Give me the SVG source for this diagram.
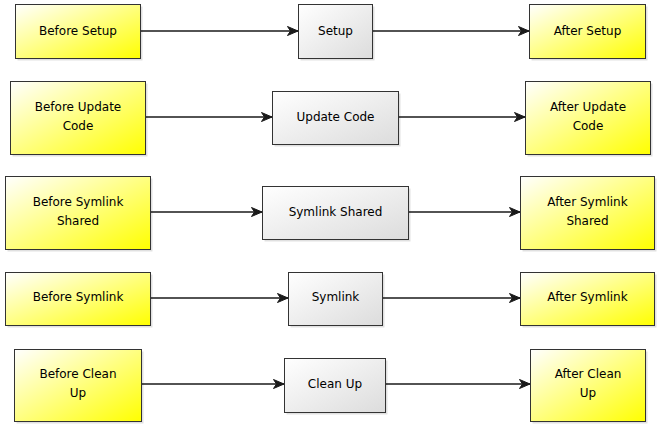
<svg xmlns="http://www.w3.org/2000/svg" width="660" height="426" viewBox="0 0 660 426">
<defs>
<linearGradient id="gy" x1="0" y1="0" x2="1" y2="1"><stop offset="0" stop-color="#ffffff"/><stop offset="1" stop-color="#ffff00"/></linearGradient>
<linearGradient id="gg" x1="0" y1="0" x2="1" y2="1"><stop offset="0" stop-color="#ffffff"/><stop offset="1" stop-color="#dcdcdc"/></linearGradient>
<marker id="arr" viewBox="0 0 14 12" refX="12.5" refY="6" markerWidth="14" markerHeight="12" markerUnits="userSpaceOnUse" orient="auto">
<path d="M2,1.5 L12.5,6 L2,10.5 L5,6 Z" fill="#1a1a1a" stroke="#1a1a1a" stroke-width="1" stroke-linejoin="miter"/>
</marker>
</defs>
<style>
.y{fill:url(#gy);stroke:#333;stroke-width:1}
.g{fill:url(#gg);stroke:#333;stroke-width:1}
.sh{fill:#000;opacity:0.12}
text{font-family:"DejaVu Sans",Verdana,sans-serif;font-size:12px;fill:#000;text-anchor:middle}
.c{stroke:#1a1a1a;stroke-width:1.3;fill:none;marker-end:url(#arr)}
</style>
<rect width="660" height="426" fill="#fff"/>
<g id="connectors">
<line class="c" x1="140.5" y1="31" x2="298" y2="31"/>
<line class="c" x1="372.5" y1="31" x2="529" y2="31"/>
<line class="c" x1="145.5" y1="117" x2="272" y2="117"/>
<line class="c" x1="398.5" y1="117" x2="525" y2="117"/>
<line class="c" x1="150.5" y1="212" x2="262" y2="212"/>
<line class="c" x1="408.5" y1="212" x2="520" y2="212"/>
<line class="c" x1="150.5" y1="298" x2="288" y2="298"/>
<line class="c" x1="382.5" y1="298" x2="520" y2="298"/>
<line class="c" x1="141.5" y1="384" x2="284" y2="384"/>
<line class="c" x1="385.5" y1="384" x2="530" y2="384"/>
</g>
<g id="before-setup"><rect class="sh" x="17.5" y="6.5" width="125" height="54"/><rect class="y" x="15.5" y="4.5" width="125" height="54"/><text x="78" y="35">Before Setup</text></g>
<g id="setup"><rect class="sh" x="300.5" y="6.5" width="74" height="54"/><rect class="g" x="298.5" y="4.5" width="74" height="54"/><text x="335.5" y="35">Setup</text></g>
<g id="after-setup"><rect class="sh" x="531.5" y="6.5" width="116" height="54"/><rect class="y" x="529.5" y="4.5" width="116" height="54"/><text x="587.5" y="35">After Setup</text></g>

<g id="before-update-code"><rect class="sh" x="12.5" y="83.5" width="135" height="73"/><rect class="y" x="10.5" y="81.5" width="135" height="73"/><text x="78" y="111">Before Update</text><text x="78" y="130">Code</text></g>
<g id="update-code"><rect class="sh" x="274.5" y="93.5" width="126" height="53"/><rect class="g" x="272.5" y="91.5" width="126" height="53"/><text x="335.5" y="121">Update Code</text></g>
<g id="after-update-code"><rect class="sh" x="527.5" y="83.5" width="125" height="73"/><rect class="y" x="525.5" y="81.5" width="125" height="73"/><text x="588" y="111">After Update</text><text x="588" y="130">Code</text></g>

<g id="before-symlink-shared"><rect class="sh" x="7.5" y="178.5" width="145" height="73"/><rect class="y" x="5.5" y="176.5" width="145" height="73"/><text x="78" y="206">Before Symlink</text><text x="78" y="225">Shared</text></g>
<g id="symlink-shared"><rect class="sh" x="264.5" y="188.5" width="146" height="53"/><rect class="g" x="262.5" y="186.5" width="146" height="53"/><text x="335.5" y="216">Symlink Shared</text></g>
<g id="after-symlink-shared"><rect class="sh" x="522.5" y="178.5" width="134" height="73"/><rect class="y" x="520.5" y="176.5" width="134" height="73"/><text x="587.5" y="206">After Symlink</text><text x="587.5" y="225">Shared</text></g>

<g id="before-symlink"><rect class="sh" x="7.5" y="274.5" width="145" height="53"/><rect class="y" x="5.5" y="272.5" width="145" height="53"/><text x="78" y="301">Before Symlink</text></g>
<g id="symlink"><rect class="sh" x="290.5" y="274.5" width="94" height="53"/><rect class="g" x="288.5" y="272.5" width="94" height="53"/><text x="335.5" y="301">Symlink</text></g>
<g id="after-symlink"><rect class="sh" x="522.5" y="274.5" width="134" height="53"/><rect class="y" x="520.5" y="272.5" width="134" height="53"/><text x="587.5" y="301">After Symlink</text></g>

<g id="before-clean-up"><rect class="sh" x="16.5" y="351.5" width="127" height="72"/><rect class="y" x="14.5" y="349.5" width="127" height="72"/><text x="78" y="378">Before Clean</text><text x="78" y="397">Up</text></g>
<g id="clean-up"><rect class="sh" x="286.5" y="360.5" width="101" height="54"/><rect class="g" x="284.5" y="358.5" width="101" height="54"/><text x="335" y="388">Clean Up</text></g>
<g id="after-clean-up"><rect class="sh" x="532.5" y="351.5" width="115" height="72"/><rect class="y" x="530.5" y="349.5" width="115" height="72"/><text x="588" y="378">After Clean</text><text x="588" y="397">Up</text></g>
</svg>
